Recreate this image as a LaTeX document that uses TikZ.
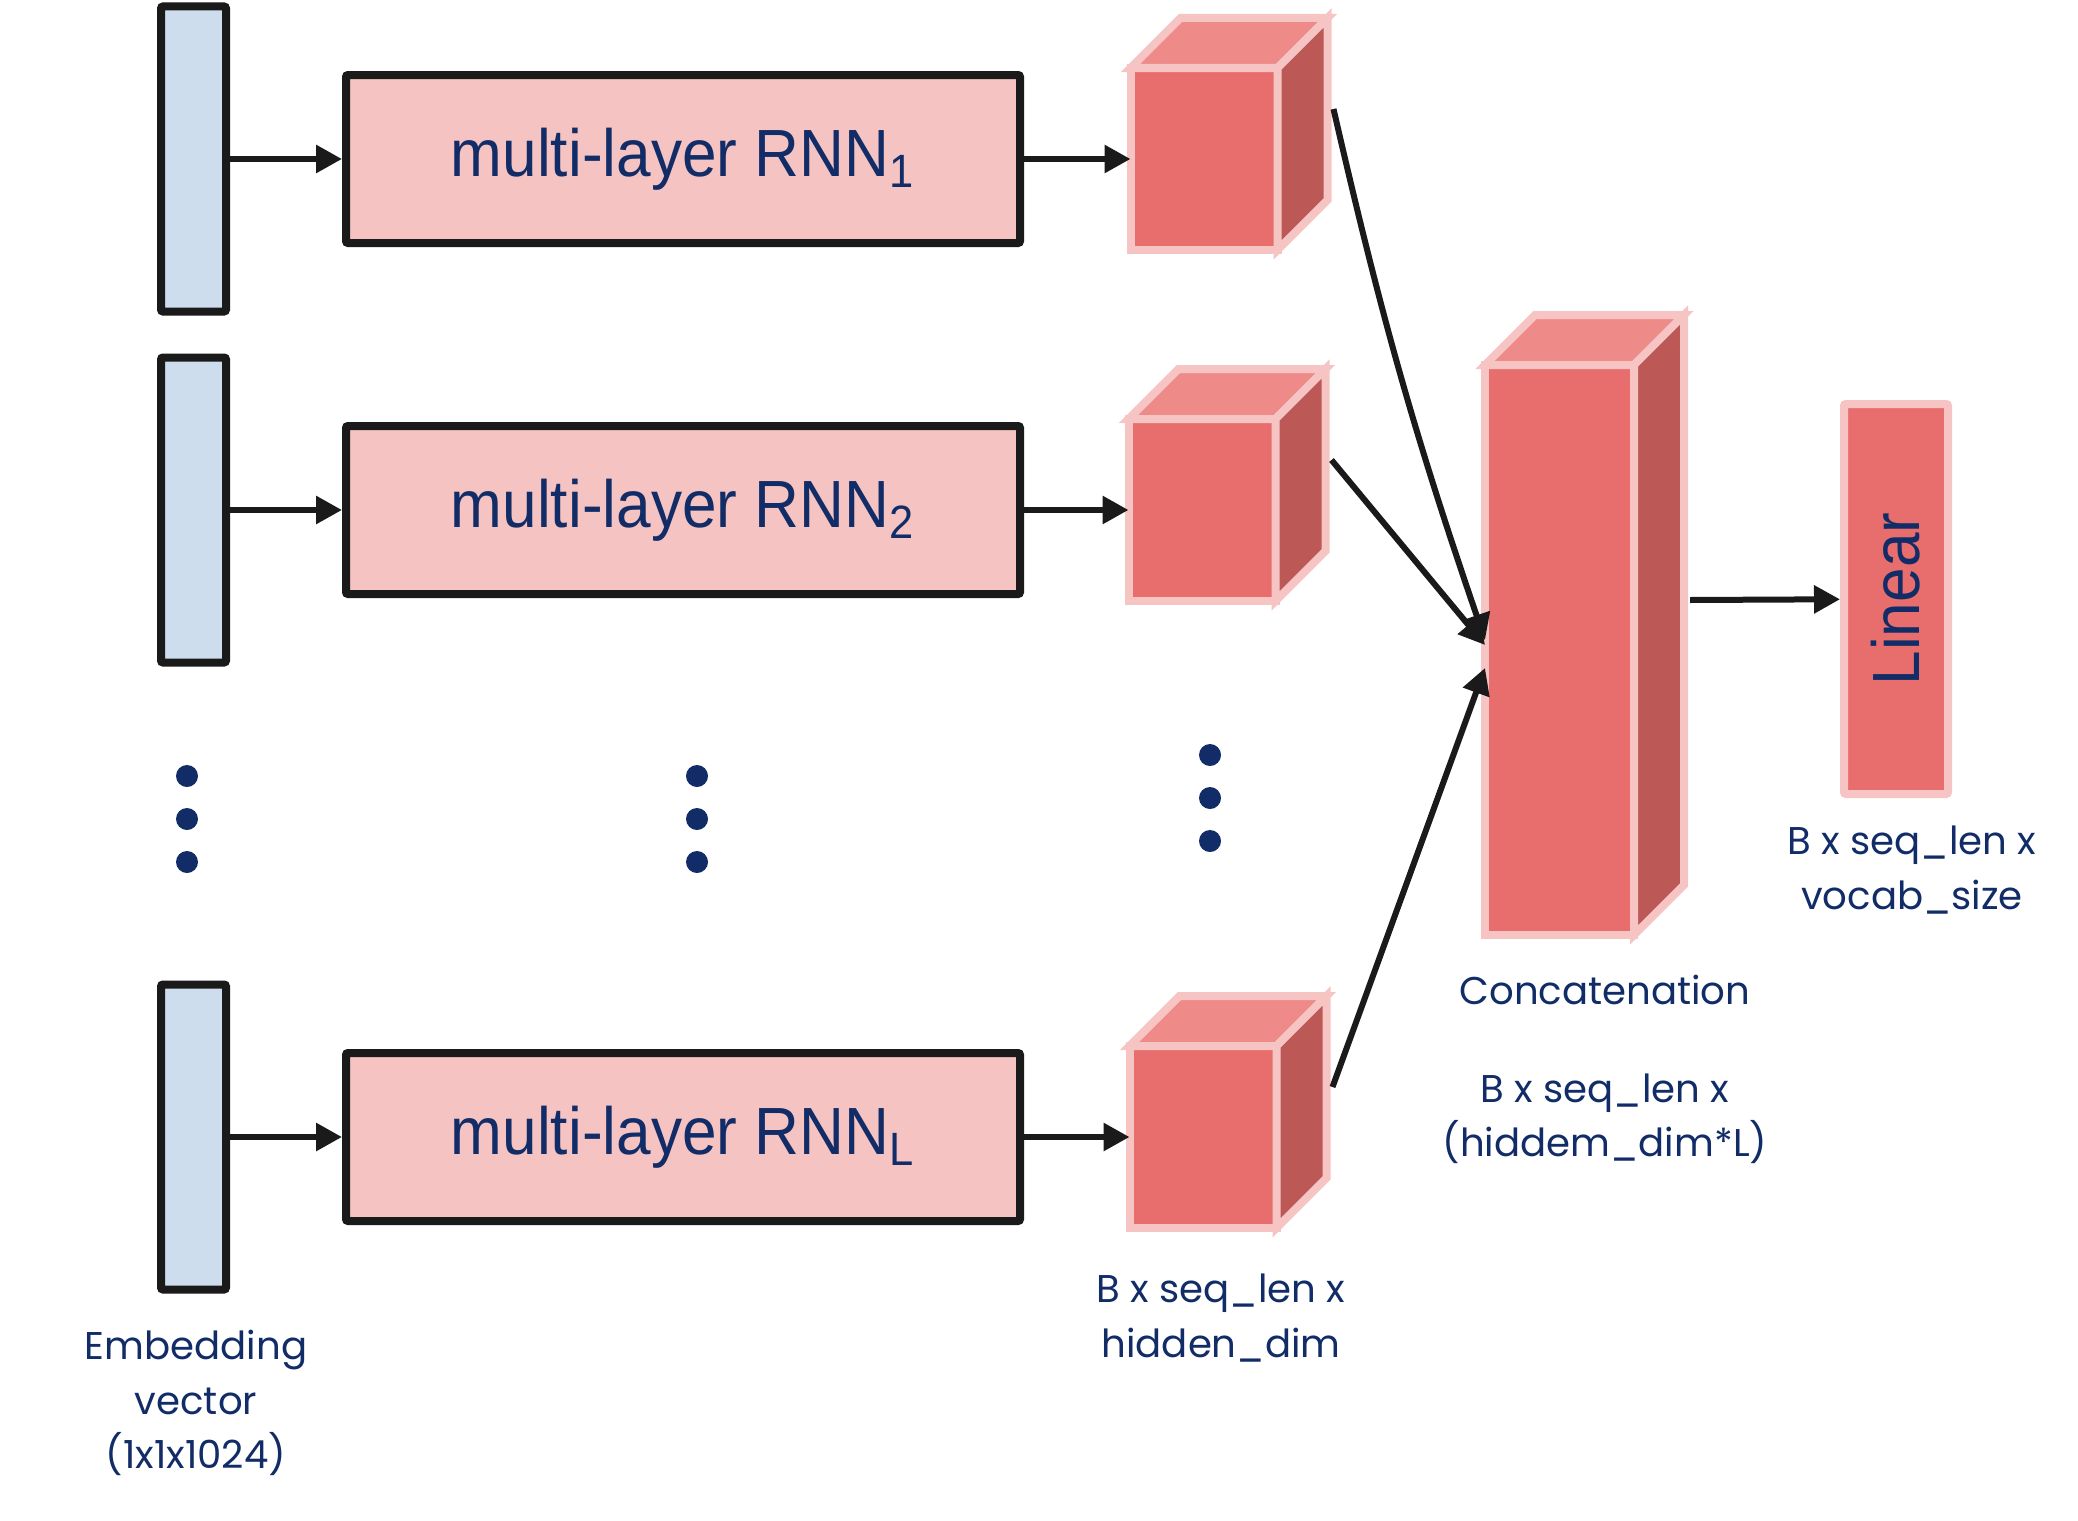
\documentclass[tikz,border=0pt]{standalone}
\usepackage{fontspec}
\usepackage{xcolor}
\usetikzlibrary{calc, arrows.meta, positioning}

\newfontfamily\rnnfont[FakeStretch=0.93]{Liberation Sans}
\newfontfamily\notefont{Poppins}

\definecolor{embblue}{HTML}{CDDDEE}
\definecolor{rnnpink}{HTML}{F4C3C2}
\definecolor{cubefront}{HTML}{E86E6D}
\definecolor{cubetop}{HTML}{EE8B89}
\definecolor{cubeside}{HTML}{BC5856}
\definecolor{cubeedge}{HTML}{F5C4C3}
\definecolor{navy}{HTML}{112C66}
\definecolor{ink}{HTML}{1A1A1A}

\begin{document}
\begin{tikzpicture}[>=latex]
		\tikzstyle{emb} = [draw=ink, line width=0.08cm, fill=embblue, rounded corners=0.02cm, minimum width=0.65cm, minimum height=3.05cm, inner sep=0]
		\tikzstyle{rnn} = [draw=ink, line width=0.08cm, fill=rnnpink, rounded corners=0.02cm, minimum width=6.74cm, minimum height=1.68cm, inner sep=0, text=navy, font=\rnnfont\fontsize{19}{19}\selectfont]
		\tikzstyle{face} = [draw=cubeedge, line width=0.08cm, fill=cubefront, inner sep=0, outer sep=0, minimum width=1.47cm, minimum height=1.82cm]
		\tikzstyle{arrow} = [draw=ink, line width=0.06cm, -{Triangle[length=0.26cm, width=0.27cm]}]
		\tikzstyle{note} = [text=navy, align=center, font=\notefont\fontsize{11}{15.5}\selectfont]
		\tikzstyle{vdot} = [circle, fill=navy, minimum size=0.22cm, inner sep=0]
		
		\useasboundingbox (0,0) rectangle (20.78,-15.21);
		
		\node[emb]	at (1.935, -1.59)	(emb1)	{};
		\node[emb]	at (1.935, -5.10)	(emb2)	{};
		\node[emb]	at (1.935, -11.37)	(embL)	{};
		
		\node[rnn]	at (6.83, -1.59)	(rnn1)	{multi-layer RNN\textsubscript{1}};
		\node[rnn]	at (6.83, -5.10)	(rnn2)	{multi-layer RNN\textsubscript{2}};
		\node[rnn]	at (6.83, -11.37)	(rnnL)	{multi-layer RNN\textsubscript{L}};
		
		\node[face]	at (12.04, -1.59)	(c1)	{};
		\node[face]	at (12.02, -5.10)	(c2)	{};
		\node[face]	at (12.03, -11.37)	(cL)	{};
		\node[face, minimum width=1.49cm, minimum height=5.70cm]	at (15.595, -6.50)	(cc)	{};
		
		% top and side faces of the boxes
		\foreach \c in {c1, c2, cL, cc} {
			\filldraw[face, fill=cubetop, line join=miter] (\c.north west) -- ++(0.5,0.5) -- ($(\c.north east)+(0.5,0.5)$) -- (\c.north east) -- cycle;
			\filldraw[face, fill=cubeside, line join=miter] (\c.north east) -- ++(0.5,0.5) -- ($(\c.south east)+(0.5,0.5)$) -- (\c.south east) -- cycle;
			\coordinate (\c o) at ($(\c.east)+(0.56,0.5)$);
		}
		
		\node[face, outer sep=0.04cm, rounded corners=0.02cm, rotate=90, minimum width=3.90cm, minimum height=1.04cm, text=navy, font=\rnnfont\fontsize{19}{19}\selectfont]	at (18.96, -5.99)	(lin)	{Linear};
		
		\foreach \x/\y [count=\i] in {1.87/-7.76, 1.87/-8.19, 1.87/-8.62, 6.97/-7.76, 6.97/-8.19, 6.97/-8.62, 12.10/-7.55, 12.10/-7.98, 12.10/-8.41}
			\node[vdot] at (\x, \y) (d\i) {};
		
		\node[note]	at (12.21, -13.18)	(nhid)	{B x seq\_len x\\hidden\_dim};
		\node[note]	at (16.05, -9.90)	(ncat)	{Concatenation};
		\node[note]	at (16.05, -11.19)	(ncatd)	{B x seq\_len x\\(hiddem\_dim*L)};
		\node[note]	at (19.12, -8.70)	(nvoc)	{B x seq\_len x\\vocab\_size};
		\node[note]	at (1.96, -14.03)	(nemb)	{Embedding\\vector\\(1x1x1024)};
		
		\draw [arrow] (emb1) -- (rnn1);
		\draw [arrow] (emb2) -- (rnn2);
		\draw [arrow] (embL) -- (rnnL);
		
		\draw [arrow] (rnn1) -- (c1);
		\draw [arrow] (rnn2) -- (c2);
		\draw [arrow] (rnnL) -- (cL);
		
		\draw [arrow] (c1o) to[bend right=3] ($(cc.west)+(0,0.10)$);
		\draw [arrow] (c2o) -- ($(cc.west)+(0,0.05)$);
		\draw [arrow] (cLo) -- ($(cc.west)+(0,-0.18)$);
		
		\draw [arrow] (cco) -- (lin);
		
	\end{tikzpicture}
\end{document}
